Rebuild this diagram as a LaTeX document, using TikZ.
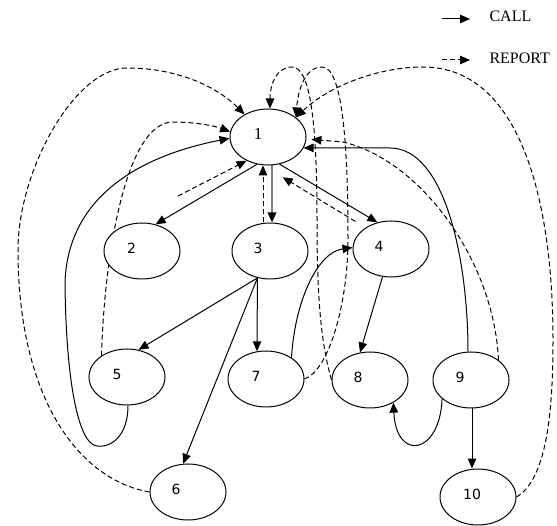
\documentclass[tikz,border=0pt]{standalone}
\usepackage{fontspec}
\setmainfont{Liberation Serif}
\newfontfamily\labfont{DejaVu Sans}
\usetikzlibrary{shapes.geometric,arrows.meta}
\pgfdeclarelayer{bg}
\pgfsetlayers{bg,main}
\newcommand{\nlab}[2]{\raisebox{3pt}{#1}\rule[-3pt]{0pt}{3pt}\kern#2pt}
\begin{document}
\begin{tikzpicture}[x=1pt,y=-1pt,
  st/.style={ellipse,draw,fill=white,line width=1pt,minimum width=76pt,minimum height=56pt,inner sep=0pt,font=\labfont\fontsize{14}{16}\selectfont},
  call/.style={line width=1pt,-{Triangle[length=10pt,width=8.5pt]}},
  report/.style={call,dash pattern=on 5pt off 3pt},
  graycall/.style={line width=2pt,draw=black!50,-{Triangle[length=10pt,width=8.5pt,color=black]}},
  legtext/.style={anchor=base west,font=\fontsize{16}{18}\selectfont}]
\useasboundingbox (0,0) rectangle (557,526);
% nodes
\node[st,font=\fontsize{17}{19}\selectfont] (n1) at (268,137) {\nlab{1}{20}};
\node[st] (n2) at (142,251) {\nlab{2}{21}};
\node[st] (n3) at (270,251) {\nlab{3}{24}};
\node[st] (n4) at (391,249) {\nlab{4}{24}};
\node[st] (n5) at (127,377) {\nlab{5}{20}};
\node[st] (n6) at (188,492) {\nlab{6}{24}};
\node[st] (n7) at (266,379) {\nlab{7}{20}};
\node[st] (n8) at (370,380) {\nlab{8}{24}};
\node[st] (n9) at (471,380) {\nlab{9}{22}};
\node[st] (n10) at (478,497) {\nlab{10}{12}};
% legend
\coordinate (la1) at (442,19);
\coordinate (la2) at (470,19);
\coordinate (lb1) at (442,60);
\coordinate (lb2) at (470,60);
\node[legtext] (lt1) at (486,22) {CALL};
\node[legtext] (lt2) at (486,64) {REPORT};
\coordinate (r2) at (178,196);
\begin{pgfonlayer}{bg}
\draw[call] (la1) -- (la2);
\draw[report] (lb1) -- (lb2);
% CALL edges
\draw[call] (n1.248) -- (n2.63);
\draw[graycall] ([xshift=4pt]n1.south) -- ([xshift=2pt]n3.north);
\draw[call] (n1.293) -- (n4.117);
\draw[call] (n3.245) -- (n5.67);
\draw[call] (n3.245) -- (n7.108);
\draw[call] (n3.245) -- (n6.100);
\draw[call] (n4.253) -- (n8.110);
\draw[call] (n7.40) .. controls (295,300) and (318,252) .. (n4.178);
\draw[call] (n9.213) .. controls (440,455) and (396,462) .. (n8.316);
\draw[call] ([xshift=1pt]n9.south) -- ([xshift=-6pt]n10.north);
\draw[call] ([xshift=-3pt]n9.north) .. controls (468,260) and (445,148) .. (390,148) -- (n1.343);
\draw[call] ([xshift=1pt]n5.south) .. controls (128,435) and (112,448) .. (97,446)
   .. controls (78,444) and (66,380) .. (65,283)
   .. controls (68,180) and (170,150) .. (n1.182);
% REPORT edges
\draw[report] (r2) -- (n1.228);
\draw[report] ([xshift=-7pt]n3.north) -- ([xshift=-5pt]n1.south);
\draw[report, shorten <=12pt, shorten >=23pt] (n4.140) -- (n1.260);
\draw[report] (n5.140) .. controls (104,260) and (125,122) .. (173,122)
   .. controls (195,122) and (215,126) .. (n1.172);
\draw[report] (n6.west) .. controls (80,480) and (18,400) .. (18,250)
   .. controls (18,170) and (75,68) .. (127,68)
   .. controls (175,68) and (215,85) .. (n1.136);
\draw[report] (n7.east) .. controls (330,370) and (348,300) .. (348,240)
   .. controls (348,140) and (342,67) .. (322,67)
   .. controls (305,67) and (298,90) .. (n1.35);
\draw[report] (n8.west) .. controls (320,340) and (317,290) .. (317,220)
   .. controls (317,120) and (310,67) .. (292,67)
   .. controls (276,67) and (270,85) .. ([xshift=2pt]n1.north);
\draw[report, shorten >=5pt] (n9.36) .. controls (494,260) and (420,160) .. (343,142) -- (n1.357);
\draw[report] (n10.east) .. controls (545,480) and (553,420) .. (553,340)
   .. controls (553,200) and (520,67) .. (423,67)
   .. controls (380,67) and (330,85) .. (n1.35);
\end{pgfonlayer}
\end{tikzpicture}
\end{document}
